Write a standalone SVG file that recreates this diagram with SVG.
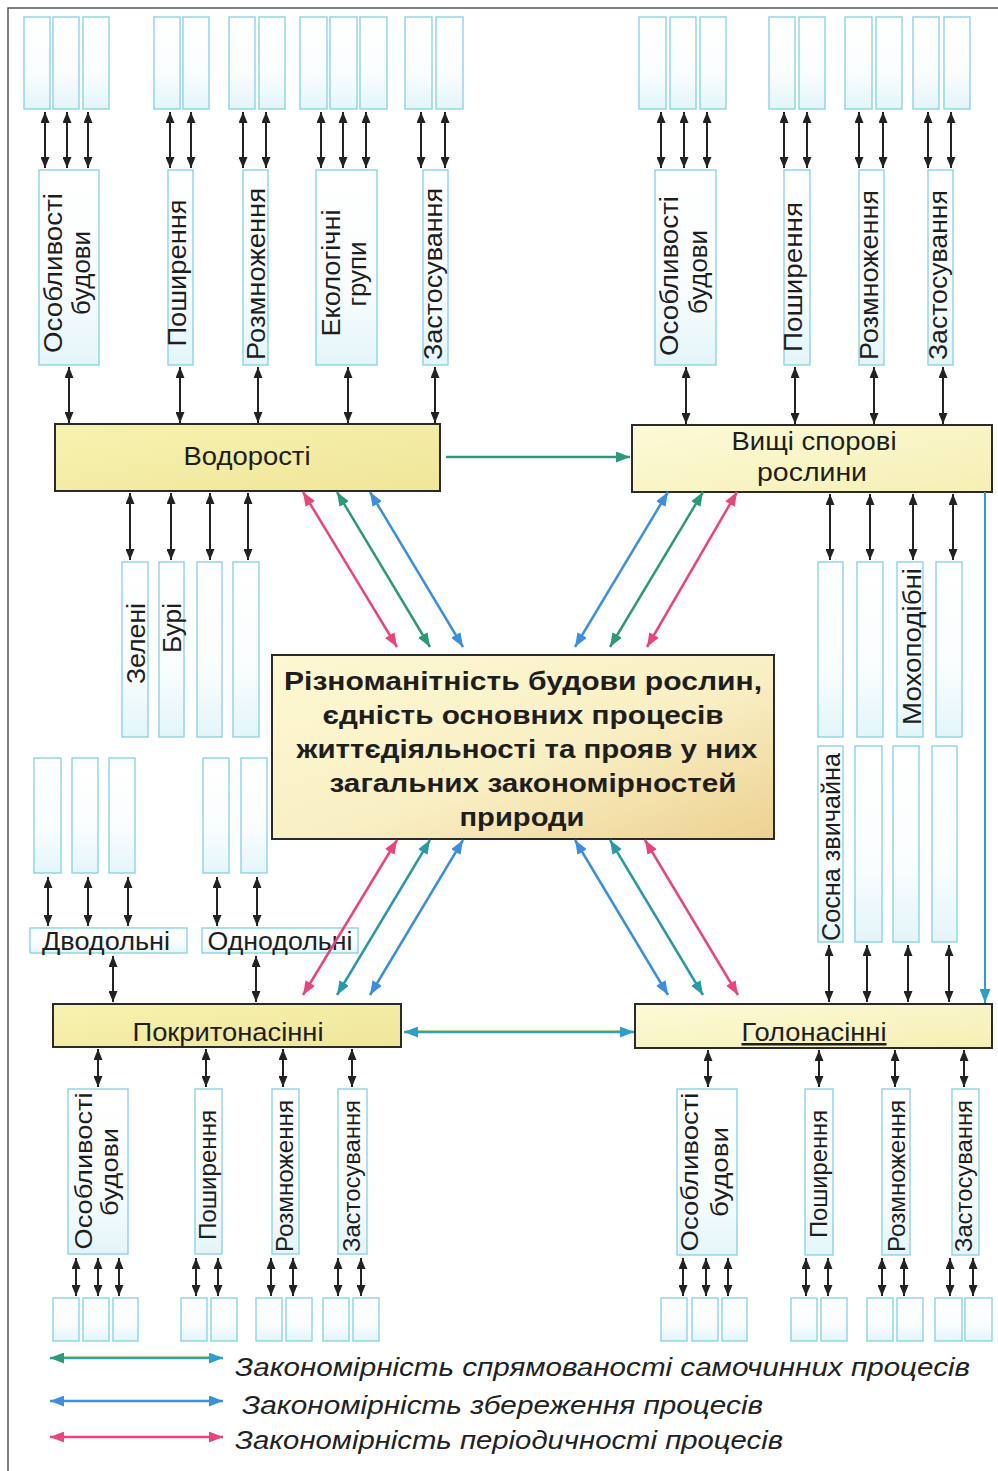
<svg xmlns="http://www.w3.org/2000/svg" width="998" height="1471" viewBox="0 0 998 1471">
  <defs>
    <linearGradient id="cyanFill" x1="0" y1="0" x2="0" y2="1">
      <stop offset="0" stop-color="#ffffff"/>
      <stop offset="0.6" stop-color="#fafdfe"/>
      <stop offset="1" stop-color="#e3f5f9"/>
    </linearGradient>
    <linearGradient id="yellowFill" x1="0" y1="0" x2="1" y2="1">
      <stop offset="0" stop-color="#f7f2b0"/>
      <stop offset="1" stop-color="#f0e699"/>
    </linearGradient>
    <linearGradient id="paleFill" x1="0" y1="0" x2="1" y2="1">
      <stop offset="0" stop-color="#fcfad8"/>
      <stop offset="1" stop-color="#f6efb4"/>
    </linearGradient>
    <linearGradient id="coreFill" x1="0" y1="0" x2="1" y2="1">
      <stop offset="0" stop-color="#fdf8d2"/>
      <stop offset="0.55" stop-color="#f9efc4"/>
      <stop offset="1" stop-color="#edd190"/>
    </linearGradient>
    <!-- arrowheads -->
    <marker id="hb" viewBox="0 0 11 9" refX="11" refY="4.5" markerWidth="11" markerHeight="9" markerUnits="userSpaceOnUse" orient="auto-start-reverse">
      <path d="M0,0 L11,4.5 L0,9 z" fill="#222"/>
    </marker>
    <marker id="hp" viewBox="0 0 14 11" refX="14" refY="5.5" markerWidth="14" markerHeight="11" markerUnits="userSpaceOnUse" orient="auto-start-reverse">
      <path d="M0,0 L14,5.5 L0,11 z" fill="#e9457c"/>
    </marker>
    <marker id="hg" viewBox="0 0 14 11" refX="14" refY="5.5" markerWidth="14" markerHeight="11" markerUnits="userSpaceOnUse" orient="auto-start-reverse">
      <path d="M0,0 L14,5.5 L0,11 z" fill="#2c9a78"/>
    </marker>
    <marker id="ht" viewBox="0 0 14 11" refX="14" refY="5.5" markerWidth="14" markerHeight="11" markerUnits="userSpaceOnUse" orient="auto-start-reverse">
      <path d="M0,0 L14,5.5 L0,11 z" fill="#2a9aa6"/>
    </marker>
    <marker id="hbl" viewBox="0 0 14 11" refX="14" refY="5.5" markerWidth="14" markerHeight="11" markerUnits="userSpaceOnUse" orient="auto-start-reverse">
      <path d="M0,0 L14,5.5 L0,11 z" fill="#3a90de"/>
    </marker>
    <marker id="hc" viewBox="0 0 14 11" refX="14" refY="5.5" markerWidth="14" markerHeight="11" markerUnits="userSpaceOnUse" orient="auto-start-reverse">
      <path d="M0,0 L14,5.5 L0,11 z" fill="#2d9fcc"/>
    </marker>
  </defs>
  <style>
    .sub { fill: url(#cyanFill); stroke: #8ad5e5; stroke-width: 1.4; }
    .main { stroke: #2a2a2a; stroke-width: 2; }
    .lbl { font-family: "Liberation Sans", Arial, sans-serif; font-size: 25px; fill: #1e1e1e; text-anchor: middle; }
    .sm { font-size: 23px; }
    .core { font-family: "Liberation Sans", Arial, sans-serif; font-weight: bold; font-size: 26px; fill: #1e1e1e; text-anchor: middle; }
    .legend { font-family: "Liberation Sans", Arial, sans-serif; font-style: italic; font-size: 26px; fill: #222; }
    .blk { stroke: #222; stroke-width: 2; fill: none; marker-start: url(#hb); marker-end: url(#hb); }
    .pink { stroke: #e9457c; stroke-width: 2.5; fill: none; marker-start: url(#hp); marker-end: url(#hp); }
    .green { stroke: #2c9a78; stroke-width: 2.5; fill: none; marker-start: url(#hg); marker-end: url(#hg); }
    .teal { stroke: #2a9aa6; stroke-width: 2.5; fill: none; marker-start: url(#ht); marker-end: url(#ht); }
    .blue { stroke: #3a90de; stroke-width: 2.5; fill: none; marker-start: url(#hbl); marker-end: url(#hbl); }
  </style>

  <rect x="0" y="0" width="998" height="1471" fill="#ffffff"/>
  <!-- page frame -->
  <path d="M8,1471 V8 H998" fill="none" stroke="#555" stroke-width="1.5"/>

  <!-- ===== Algae ===== -->
  <g id="algae">
    <rect class="main" x="55" y="424" width="385" height="67" fill="url(#yellowFill)"/>
    <text class="lbl" x="247" y="465" textLength="127" lengthAdjust="spacingAndGlyphs">Водорості</text>
  </g>
  <g id="algae-items">
    <rect class="sub" x="24" y="17" width="26" height="92"/>
    <rect class="sub" x="53" y="17" width="26" height="92"/>
    <rect class="sub" x="83" y="17" width="26" height="92"/>
    <rect class="sub" x="154" y="17" width="26" height="92"/>
    <rect class="sub" x="183" y="17" width="26" height="92"/>
    <rect class="sub" x="229" y="17" width="26" height="92"/>
    <rect class="sub" x="259" y="17" width="26" height="92"/>
    <rect class="sub" x="300" y="17" width="27" height="92"/>
    <rect class="sub" x="330" y="17" width="27" height="92"/>
    <rect class="sub" x="360" y="17" width="27" height="92"/>
    <rect class="sub" x="405" y="17" width="27" height="92"/>
    <rect class="sub" x="436" y="17" width="27" height="92"/>
  </g>
  <g id="algae-structure">
    <rect class="sub" x="39" y="170" width="60" height="195"/>
    <text class="lbl" transform="translate(62,273) rotate(-90)" textLength="160" lengthAdjust="spacingAndGlyphs">Особливості</text>
    <text class="lbl" transform="translate(90,273) rotate(-90)" textLength="84" lengthAdjust="spacingAndGlyphs">будови</text>
  </g>
  <g id="algae-spread">
    <rect class="sub" x="168" y="170" width="25" height="195"/>
    <text class="lbl" transform="translate(186,273) rotate(-90)" textLength="147" lengthAdjust="spacingAndGlyphs">Поширення</text>
  </g>
  <g id="algae-reproduction">
    <rect class="sub" x="243" y="170" width="25" height="195"/>
    <text class="lbl" transform="translate(265,274) rotate(-90)" textLength="172" lengthAdjust="spacingAndGlyphs">Розмноження</text>
  </g>
  <g id="algae-ecogroups">
    <rect class="sub" x="316" y="170" width="61" height="195"/>
    <text class="lbl" transform="translate(340,273) rotate(-90)" textLength="127" lengthAdjust="spacingAndGlyphs">Екологічні</text>
    <text class="lbl" transform="translate(366,274) rotate(-90)" textLength="65" lengthAdjust="spacingAndGlyphs">групи</text>
  </g>
  <g id="algae-use">
    <rect class="sub" x="423" y="170" width="25" height="195"/>
    <text class="lbl" transform="translate(442,274) rotate(-90)" textLength="172" lengthAdjust="spacingAndGlyphs">Застосування</text>
  </g>
  <g id="algae-groups">
    <rect class="sub" x="122" y="562" width="26" height="175"/>
    <rect class="sub" x="159" y="562" width="25" height="175"/>
    <rect class="sub" x="197" y="562" width="25" height="175"/>
    <rect class="sub" x="233" y="562" width="26" height="175"/>
    <text class="lbl" transform="translate(145,643.5) rotate(-90)" textLength="81" lengthAdjust="spacingAndGlyphs">Зелені</text>
    <text class="lbl" transform="translate(181,628) rotate(-90)" textLength="50" lengthAdjust="spacingAndGlyphs">Бурі</text>
  </g>

  <!-- ===== Higher spore plants ===== -->
  <g id="spore-plants">
    <rect class="main" x="632" y="425" width="360" height="67" fill="url(#paleFill)"/>
    <text class="lbl" x="814" y="450" textLength="165" lengthAdjust="spacingAndGlyphs">Вищі спорові</text>
    <text class="lbl" x="812" y="481" textLength="110" lengthAdjust="spacingAndGlyphs">рослини</text>
  </g>
  <g id="spore-items">
    <rect class="sub" x="639" y="17" width="27" height="92"/>
    <rect class="sub" x="670" y="17" width="26" height="92"/>
    <rect class="sub" x="700" y="17" width="26" height="92"/>
    <rect class="sub" x="769" y="17" width="26" height="92"/>
    <rect class="sub" x="799" y="17" width="26" height="92"/>
    <rect class="sub" x="845" y="17" width="27" height="92"/>
    <rect class="sub" x="876" y="17" width="26" height="92"/>
    <rect class="sub" x="913" y="17" width="26" height="92"/>
    <rect class="sub" x="944" y="17" width="26" height="92"/>
  </g>
  <g id="spore-structure">
    <rect class="sub" x="655" y="170" width="61" height="195"/>
    <text class="lbl" transform="translate(678,276) rotate(-90)" textLength="160" lengthAdjust="spacingAndGlyphs">Особливості</text>
    <text class="lbl" transform="translate(707,272) rotate(-90)" textLength="84" lengthAdjust="spacingAndGlyphs">будови</text>
  </g>
  <g id="spore-spread">
    <rect class="sub" x="784" y="170" width="26" height="195"/>
    <text class="lbl" transform="translate(802,277) rotate(-90)" textLength="150" lengthAdjust="spacingAndGlyphs">Поширення</text>
  </g>
  <g id="spore-reproduction">
    <rect class="sub" x="859" y="170" width="25" height="195"/>
    <text class="lbl" transform="translate(878,275) rotate(-90)" textLength="170" lengthAdjust="spacingAndGlyphs">Розмноження</text>
  </g>
  <g id="spore-use">
    <rect class="sub" x="928" y="170" width="25" height="195"/>
    <text class="lbl" transform="translate(947,275) rotate(-90)" textLength="170" lengthAdjust="spacingAndGlyphs">Застосування</text>
  </g>
  <g id="spore-groups">
    <rect class="sub" x="818" y="562" width="25" height="175"/>
    <rect class="sub" x="857" y="562" width="26" height="175"/>
    <rect class="sub" x="897" y="562" width="26" height="175"/>
    <rect class="sub" x="936" y="562" width="26" height="175"/>
    <text class="lbl" transform="translate(921,646.5) rotate(-90)" textLength="157" lengthAdjust="spacingAndGlyphs">Мохоподібні</text>
  </g>
  <g id="gymnosperm-groups">
    <rect class="sub" x="818" y="746" width="25" height="196"/>
    <rect class="sub" x="855" y="746" width="27" height="196"/>
    <rect class="sub" x="893" y="746" width="26" height="196"/>
    <rect class="sub" x="932" y="746" width="25" height="196"/>
    <text class="lbl" transform="translate(840,847) rotate(-90)" textLength="188" lengthAdjust="spacingAndGlyphs">Сосна звичайна</text>
  </g>

  <!-- ===== Central node ===== -->
  <g id="core">
    <rect class="main" x="272" y="655" width="502" height="184" fill="url(#coreFill)"/>
    <text class="core" x="523" y="690" textLength="478" lengthAdjust="spacingAndGlyphs">Різноманітність будови рослин,</text>
    <text class="core" x="523" y="724" textLength="401" lengthAdjust="spacingAndGlyphs">єдність основних процесів</text>
    <text class="core" x="527" y="758" textLength="461" lengthAdjust="spacingAndGlyphs">життєдіяльності та прояв у них</text>
    <text class="core" x="533" y="792" textLength="407" lengthAdjust="spacingAndGlyphs">загальних закономірностей</text>
    <text class="core" x="522" y="826" textLength="125" lengthAdjust="spacingAndGlyphs">природи</text>
  </g>

  <!-- ===== Flowering plants ===== -->
  <g id="dicots">
    <rect class="sub" x="30" y="928" width="157" height="25"/>
    <text class="lbl" x="106" y="950" textLength="128" lengthAdjust="spacingAndGlyphs">Дводольні</text>
  </g>
  <g id="monocots">
    <rect class="sub" x="202" y="928" width="156" height="25"/>
    <text class="lbl" x="280" y="950" textLength="145" lengthAdjust="spacingAndGlyphs">Однодольні</text>
  </g>
  <g id="class-items">
    <rect class="sub" x="34" y="758" width="27" height="115"/>
    <rect class="sub" x="72" y="758" width="26" height="115"/>
    <rect class="sub" x="109" y="758" width="26" height="115"/>
    <rect class="sub" x="203" y="758" width="26" height="115"/>
    <rect class="sub" x="241" y="758" width="26" height="115"/>
  </g>
  <g id="angiosperms">
    <rect class="main" x="53" y="1004" width="348" height="43" fill="url(#yellowFill)"/>
    <text class="lbl" x="228" y="1041" textLength="191" lengthAdjust="spacingAndGlyphs">Покритонасінні</text>
  </g>
  <g id="angio-structure">
    <rect class="sub" x="68" y="1089" width="60" height="165"/>
    <text class="lbl sm" transform="translate(92,1171) rotate(-90)" textLength="157" lengthAdjust="spacingAndGlyphs">Особливості</text>
    <text class="lbl sm" transform="translate(118,1172) rotate(-90)" textLength="88" lengthAdjust="spacingAndGlyphs">будови</text>
  </g>
  <g id="angio-spread">
    <rect class="sub" x="195" y="1089" width="27" height="165"/>
    <text class="lbl sm" transform="translate(216,1175) rotate(-90)" textLength="130" lengthAdjust="spacingAndGlyphs">Поширення</text>
  </g>
  <g id="angio-reproduction">
    <rect class="sub" x="272" y="1089" width="27" height="165"/>
    <text class="lbl sm" transform="translate(293,1176) rotate(-90)" textLength="152" lengthAdjust="spacingAndGlyphs">Розмноження</text>
  </g>
  <g id="angio-use">
    <rect class="sub" x="338" y="1089" width="29" height="165"/>
    <text class="lbl sm" transform="translate(360,1176) rotate(-90)" textLength="152" lengthAdjust="spacingAndGlyphs">Застосування</text>
  </g>
  <g id="angio-items">
    <rect class="sub" x="53" y="1298" width="26" height="43"/>
    <rect class="sub" x="83" y="1298" width="26" height="43"/>
    <rect class="sub" x="113" y="1298" width="25" height="43"/>
    <rect class="sub" x="181" y="1298" width="26" height="43"/>
    <rect class="sub" x="211" y="1298" width="26" height="43"/>
    <rect class="sub" x="256" y="1298" width="26" height="43"/>
    <rect class="sub" x="286" y="1298" width="26" height="43"/>
    <rect class="sub" x="323" y="1298" width="26" height="43"/>
    <rect class="sub" x="353" y="1298" width="26" height="43"/>
  </g>

  <!-- ===== Gymnosperms ===== -->
  <g id="gymnosperms">
    <rect class="main" x="635" y="1004" width="357" height="44" fill="url(#paleFill)"/>
    <text class="lbl" x="814" y="1041" textLength="145" lengthAdjust="spacingAndGlyphs" text-decoration="underline">Голонасінні</text>
  </g>
  <g id="gymno-structure">
    <rect class="sub" x="677" y="1089" width="60" height="166"/>
    <text class="lbl sm" transform="translate(698,1172) rotate(-90)" textLength="159" lengthAdjust="spacingAndGlyphs">Особливості</text>
    <text class="lbl sm" transform="translate(728,1172) rotate(-90)" textLength="90" lengthAdjust="spacingAndGlyphs">будови</text>
  </g>
  <g id="gymno-spread">
    <rect class="sub" x="805" y="1089" width="28" height="166"/>
    <text class="lbl sm" transform="translate(827,1174) rotate(-90)" textLength="128" lengthAdjust="spacingAndGlyphs">Поширення</text>
  </g>
  <g id="gymno-reproduction">
    <rect class="sub" x="882" y="1089" width="28" height="166"/>
    <text class="lbl sm" transform="translate(905,1176) rotate(-90)" textLength="152" lengthAdjust="spacingAndGlyphs">Розмноження</text>
  </g>
  <g id="gymno-use">
    <rect class="sub" x="952" y="1089" width="27" height="166"/>
    <text class="lbl sm" transform="translate(972,1176) rotate(-90)" textLength="152" lengthAdjust="spacingAndGlyphs">Застосування</text>
  </g>
  <g id="gymno-items">
    <rect class="sub" x="661" y="1298" width="26" height="43"/>
    <rect class="sub" x="692" y="1298" width="26" height="43"/>
    <rect class="sub" x="722" y="1298" width="25" height="43"/>
    <rect class="sub" x="791" y="1298" width="26" height="43"/>
    <rect class="sub" x="821" y="1298" width="26" height="43"/>
    <rect class="sub" x="867" y="1298" width="26" height="43"/>
    <rect class="sub" x="897" y="1298" width="26" height="43"/>
    <rect class="sub" x="935" y="1298" width="27" height="43"/>
    <rect class="sub" x="965" y="1298" width="27" height="43"/>
  </g>

  <!-- ===== Connectors ===== -->
  <g id="connectors">
    <!-- algae: item boxes to topic boxes -->
    <line class="blk" x1="45" y1="112" x2="45" y2="168"/>
    <line class="blk" x1="67" y1="112" x2="67" y2="168"/>
    <line class="blk" x1="88" y1="112" x2="88" y2="168"/>
    <line class="blk" x1="170" y1="112" x2="170" y2="168"/>
    <line class="blk" x1="191" y1="112" x2="191" y2="168"/>
    <line class="blk" x1="243" y1="112" x2="243" y2="168"/>
    <line class="blk" x1="266" y1="112" x2="266" y2="168"/>
    <line class="blk" x1="321" y1="112" x2="321" y2="168"/>
    <line class="blk" x1="343" y1="112" x2="343" y2="168"/>
    <line class="blk" x1="366" y1="112" x2="366" y2="168"/>
    <line class="blk" x1="421" y1="112" x2="421" y2="168"/>
    <line class="blk" x1="445" y1="112" x2="445" y2="168"/>
    <!-- algae: topic boxes to node -->
    <line class="blk" x1="69" y1="367" x2="69" y2="423"/>
    <line class="blk" x1="180" y1="367" x2="180" y2="423"/>
    <line class="blk" x1="258" y1="367" x2="258" y2="423"/>
    <line class="blk" x1="348" y1="367" x2="348" y2="423"/>
    <line class="blk" x1="435" y1="367" x2="435" y2="423"/>
    <!-- algae: node to groups -->
    <line class="blk" x1="130" y1="493" x2="130" y2="560"/>
    <line class="blk" x1="171" y1="493" x2="171" y2="560"/>
    <line class="blk" x1="210" y1="493" x2="210" y2="560"/>
    <line class="blk" x1="248" y1="493" x2="248" y2="560"/>

    <!-- spore plants -->
    <line class="blk" x1="661" y1="112" x2="661" y2="168"/>
    <line class="blk" x1="684" y1="112" x2="684" y2="168"/>
    <line class="blk" x1="707" y1="112" x2="707" y2="168"/>
    <line class="blk" x1="784" y1="112" x2="784" y2="168"/>
    <line class="blk" x1="807" y1="112" x2="807" y2="168"/>
    <line class="blk" x1="859" y1="112" x2="859" y2="168"/>
    <line class="blk" x1="883" y1="112" x2="883" y2="168"/>
    <line class="blk" x1="928" y1="112" x2="928" y2="168"/>
    <line class="blk" x1="951" y1="112" x2="951" y2="168"/>
    <line class="blk" x1="686" y1="367" x2="686" y2="424"/>
    <line class="blk" x1="795" y1="367" x2="795" y2="424"/>
    <line class="blk" x1="874" y1="367" x2="874" y2="424"/>
    <line class="blk" x1="943" y1="367" x2="943" y2="424"/>
    <line class="blk" x1="830" y1="494" x2="830" y2="560"/>
    <line class="blk" x1="870" y1="494" x2="870" y2="560"/>
    <line class="blk" x1="913" y1="494" x2="913" y2="560"/>
    <line class="blk" x1="953" y1="494" x2="953" y2="560"/>
    <!-- gymnosperm groups to node -->
    <line class="blk" x1="829" y1="945" x2="829" y2="1002"/>
    <line class="blk" x1="867" y1="945" x2="867" y2="1002"/>
    <line class="blk" x1="908" y1="945" x2="908" y2="1002"/>
    <line class="blk" x1="949" y1="945" x2="949" y2="1002"/>

    <!-- classes -->
    <line class="blk" x1="48" y1="877" x2="48" y2="926"/>
    <line class="blk" x1="88" y1="877" x2="88" y2="926"/>
    <line class="blk" x1="128" y1="877" x2="128" y2="926"/>
    <line class="blk" x1="217" y1="877" x2="217" y2="926"/>
    <line class="blk" x1="257" y1="877" x2="257" y2="926"/>
    <line class="blk" x1="113" y1="956" x2="113" y2="1002"/>
    <line class="blk" x1="256" y1="956" x2="256" y2="1002"/>

    <!-- angiosperms -->
    <line class="blk" x1="98" y1="1049" x2="98" y2="1087"/>
    <line class="blk" x1="206" y1="1049" x2="206" y2="1087"/>
    <line class="blk" x1="283" y1="1049" x2="283" y2="1087"/>
    <line class="blk" x1="352" y1="1049" x2="352" y2="1087"/>
    <line class="blk" x1="76" y1="1258" x2="76" y2="1296"/>
    <line class="blk" x1="98" y1="1258" x2="98" y2="1296"/>
    <line class="blk" x1="119" y1="1258" x2="119" y2="1296"/>
    <line class="blk" x1="196" y1="1258" x2="196" y2="1296"/>
    <line class="blk" x1="218" y1="1258" x2="218" y2="1296"/>
    <line class="blk" x1="271" y1="1258" x2="271" y2="1296"/>
    <line class="blk" x1="293" y1="1258" x2="293" y2="1296"/>
    <line class="blk" x1="338" y1="1258" x2="338" y2="1296"/>
    <line class="blk" x1="361" y1="1258" x2="361" y2="1296"/>

    <!-- gymnosperms -->
    <line class="blk" x1="708" y1="1050" x2="708" y2="1087"/>
    <line class="blk" x1="819" y1="1050" x2="819" y2="1087"/>
    <line class="blk" x1="895" y1="1050" x2="895" y2="1087"/>
    <line class="blk" x1="964" y1="1050" x2="964" y2="1087"/>
    <line class="blk" x1="683" y1="1258" x2="683" y2="1296"/>
    <line class="blk" x1="706" y1="1258" x2="706" y2="1296"/>
    <line class="blk" x1="728" y1="1258" x2="728" y2="1296"/>
    <line class="blk" x1="806" y1="1258" x2="806" y2="1296"/>
    <line class="blk" x1="828" y1="1258" x2="828" y2="1296"/>
    <line class="blk" x1="882" y1="1258" x2="882" y2="1296"/>
    <line class="blk" x1="904" y1="1258" x2="904" y2="1296"/>
    <line class="blk" x1="950" y1="1258" x2="950" y2="1296"/>
    <line class="blk" x1="973" y1="1258" x2="973" y2="1296"/>

    <!-- evolutionary sequence -->
    <line x1="446" y1="457" x2="630" y2="457" stroke="#2c9a78" stroke-width="2.5" marker-end="url(#hg)"/>
    <line x1="985" y1="492" x2="985" y2="1003" stroke="#2d9fcc" stroke-width="2" marker-end="url(#hc)"/>
    <line x1="406" y1="1030.5" x2="632" y2="1030.5" stroke="#e6e07a" stroke-width="1.2"/>
    <line x1="404" y1="1032" x2="634" y2="1032" stroke="#2d9fcc" stroke-width="2.5" marker-start="url(#hc)" marker-end="url(#hc)"/>

    <!-- regularities: algae / core -->
    <line class="pink" x1="303" y1="492" x2="397" y2="647"/>
    <line class="green" x1="337" y1="492" x2="430" y2="647"/>
    <line class="blue" x1="370" y1="492" x2="463" y2="647"/>
    <!-- spore plants / core -->
    <line class="blue" x1="668" y1="492" x2="575" y2="647"/>
    <line class="green" x1="703" y1="492" x2="610" y2="647"/>
    <line class="pink" x1="737" y1="492" x2="647" y2="647"/>
    <!-- angiosperms / core -->
    <line class="pink" x1="397" y1="840" x2="303" y2="995" stroke-width="1.8"/>
    <line class="teal" x1="430" y1="840" x2="337" y2="995"/>
    <line class="blue" x1="463" y1="840" x2="370" y2="995"/>
    <!-- gymnosperms / core -->
    <line class="blue" x1="575" y1="840" x2="668" y2="995"/>
    <line class="teal" x1="610" y1="840" x2="703" y2="995"/>
    <line class="pink" x1="645" y1="840" x2="738" y2="995"/>
  </g>

  <!-- ===== Legend ===== -->
  <g id="legend">
    <line x1="54" y1="1356.5" x2="220" y2="1356.5" stroke="#e6e07a" stroke-width="1.5"/>
    <line x1="50" y1="1358" x2="223" y2="1358" stroke="#2d9fcc" stroke-width="2.5" marker-start="url(#hg)" marker-end="url(#hc)"/>
    <line class="blue" x1="50" y1="1401" x2="223" y2="1401"/>
    <line class="pink" x1="50" y1="1437" x2="223" y2="1437"/>
    <text class="legend" x="235" y="1376" textLength="735" lengthAdjust="spacingAndGlyphs">Закономірність спрямованості самочинних процесів</text>
    <text class="legend" x="242" y="1414" textLength="521" lengthAdjust="spacingAndGlyphs">Закономірність збереження процесів</text>
    <text class="legend" x="235" y="1449" textLength="548" lengthAdjust="spacingAndGlyphs">Закономірність періодичності процесів</text>
  </g>
</svg>
